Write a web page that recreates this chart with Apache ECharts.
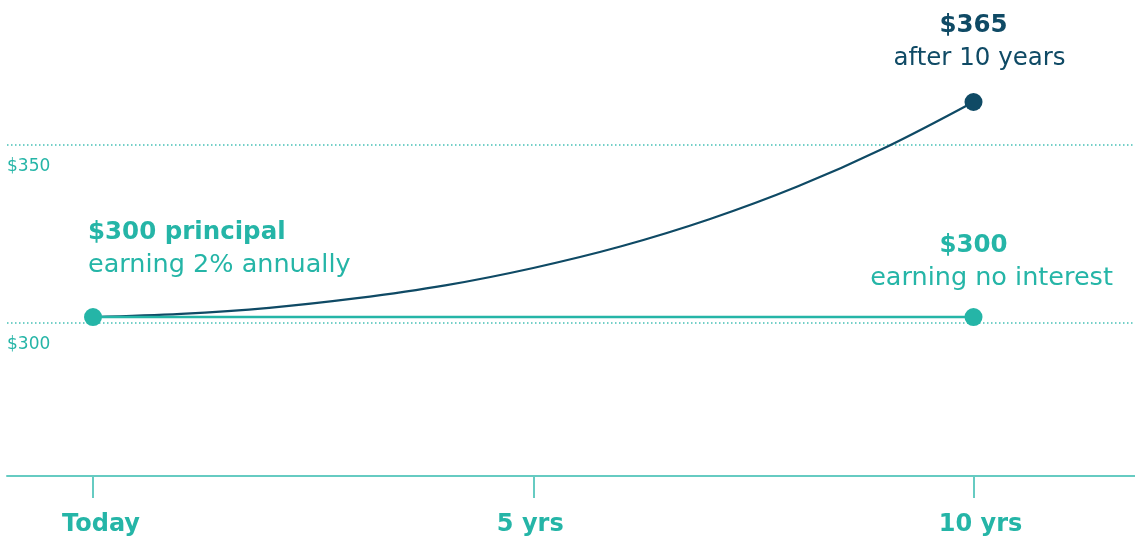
<!DOCTYPE html>
<html>
<head>
<meta charset="utf-8">
<script src="https://cdn.jsdelivr.net/npm/echarts@6/dist/echarts.min.js"></script>
<style>
html,body{margin:0;padding:0;background:#fff;}
#chart{width:1135px;height:540px;}
</style>
</head>
<body>
<div id="chart"></div>
<script>
// ---- data ----
const years = [0, 1, 2, 3, 4, 5, 6, 7, 8, 9, 10];
const compoundValues = [301.6, 302.5, 304.2, 306.9, 310.5, 315.4, 321.5, 329.1, 338.3, 349.3, 362.1];
const flatYears = [0, 10];
const flatValues = [301.6, 301.6];
const tickYears = [0, 5, 10];
const tickLabels = ['Today', '5 yrs', '10 yrs'];
const gridValues = [300, 350];
const gridLabels = ['$300', '$350'];
const startTitle = '$300 principal';
const startSub = 'earning 2% annually';
const endTitle = '$365';
const endSub = 'after 10 years';
const flatTitle = '$300';
const flatSub = 'earning no interest';

// ---- style ----
const TEAL = '#25b5a7';
const NAVY = '#0f4a65';
const AXIS = '#66cbc2';
const DOT = '#45c0b5';
const FONT = 'DejaVu Sans';

const chart = echarts.init(document.getElementById('chart'), null, {renderer: 'canvas'});

const lastIdx = years.length - 1;
const curveData = years.map((y, i) => {
  if (i === lastIdx) {
    return {
      value: [y, compoundValues[i]],
      symbolSize: 18,
      label: {
        show: true,
        position: 'top',
        distance: 18,
        formatter: '{b|' + endTitle + '}\n{r|' + endSub + '}',
        rich: {
          b: {fontFamily: FONT, fontWeight: 'bold', fontSize: 24.5, lineHeight: 33, color: NAVY},
          r: {fontFamily: FONT, fontSize: 24.5, lineHeight: 33, color: NAVY, padding: [0, 0, 0, 12]}
        }
      }
    };
  }
  return {value: [y, compoundValues[i]], symbolSize: 0};
});

const flatData = flatYears.map((y, i) => {
  if (i === 0) {
    return {
      value: [y, flatValues[i]],
      label: {
        show: true,
        position: 'top',
        distance: 26,
        align: 'left',
        offset: [-5, 0],
        formatter: '{b|' + startTitle + '}\n{r|' + startSub + '}',
        rich: {
          b: {fontFamily: FONT, fontWeight: 'bold', fontSize: 24.5, lineHeight: 33, color: TEAL, align: 'left'},
          r: {fontFamily: FONT, fontSize: 25.5, lineHeight: 33, color: TEAL, align: 'left'}
        }
      }
    };
  }
  return {
    value: [y, flatValues[i]],
    label: {
      show: true,
      position: 'top',
      distance: 14,
      formatter: '{b|' + flatTitle + '}\n{r|' + flatSub + '}',
      rich: {
        b: {fontFamily: FONT, fontWeight: 'bold', fontSize: 24.5, lineHeight: 32, color: TEAL},
        r: {fontFamily: FONT, fontSize: 25.5, lineHeight: 32, color: TEAL, padding: [0, 0, 0, 36]}
      }
    }
  };
});

const labelShift = {
  'Today': [0, 0, 0, 16],
  '5 yrs': [0, 6, 0, 0],
  '10 yrs': [0, 0, 0, 14]
};

const option = {
  animation: false,
  backgroundColor: '#ffffff',
  grid: {left: 7, right: 0, top: 2.84, bottom: 64, containLabel: false, outerBoundsMode: 'none'},
  xAxis: {
    type: 'value',
    min: -0.977,
    max: 11.834,
    axisLine: {show: true, lineStyle: {color: AXIS, width: 2}},
    axisTick: {show: true, customValues: tickYears, length: 22, lineStyle: {color: AXIS, width: 2}},
    axisLabel: {
      show: true,
      customValues: tickYears,
      margin: 37,
      formatter: function (v) {
        const k = tickYears.indexOf(Math.round(v));
        return k >= 0 ? '{t' + k + '|' + tickLabels[k] + '}' : '';
      },
      rich: tickLabels.reduce((acc, name, k) => {
        acc['t' + k] = {
          fontFamily: FONT, fontWeight: 'bold', fontSize: 24, color: TEAL,
          padding: labelShift[name]
        };
        return acc;
      }, {})
    },
    splitLine: {show: false}
  },
  yAxis: {
    type: 'value',
    min: 256.87,
    max: 390,
    show: false,
    splitLine: {show: false}
  },
  series: [
    {
      type: 'line',
      name: 'compound',
      data: curveData,
      smooth: 0.35,
      showAllSymbol: true,
      symbol: 'circle',
      lineStyle: {color: NAVY, width: 2.2},
      itemStyle: {color: NAVY},
      z: 3,
      silent: true
    },
    {
      type: 'line',
      name: 'flat',
      data: flatData,
      symbol: 'circle',
      symbolSize: 18,
      showAllSymbol: true,
      lineStyle: {color: TEAL, width: 2.6},
      itemStyle: {color: TEAL},
      z: 4,
      silent: true,
      markLine: {
        silent: true,
        symbol: ['none', 'none'],
        lineStyle: {color: DOT, type: [1.5, 2.5], width: 1.5},
        label: {
          show: true,
          position: 'insideStartBottom',
          distance: [0, 13],
          fontFamily: FONT,
          fontSize: 17,
          color: TEAL
        },
        data: gridValues.map((v, i) => ({yAxis: v, label: {formatter: gridLabels[i]}})),
        z: 1
      }
    }
  ]
};

chart.setOption(option);
</script>
</body>
</html>
